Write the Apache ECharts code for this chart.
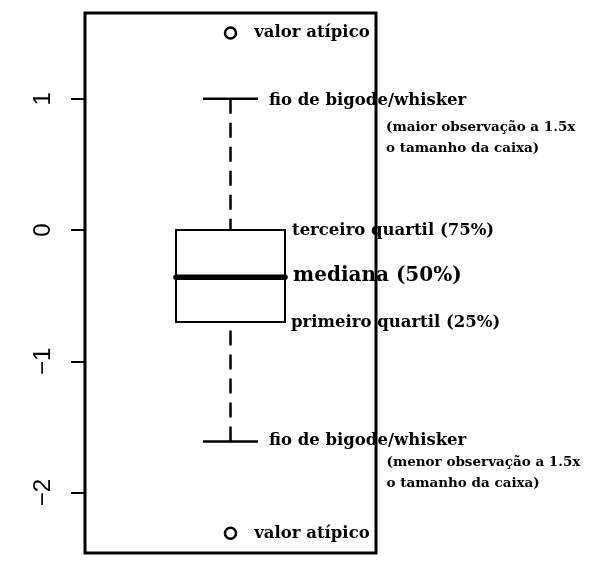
<!DOCTYPE html>
<html><head><meta charset="utf-8">
<script src="https://cdn.jsdelivr.net/npm/echarts@6/dist/echarts.min.js"></script>
<style>html,body{margin:0;padding:0;background:#fff}#c{width:600px;height:580px}</style>
</head><body><div id="c"></div>
<script>
// ---- data ----
const boxStats = [-1.61, -0.70, -0.36, 0.00, 1.00]; // lower whisker, Q1, median, Q3, upper whisker
const outliers = [1.50, -2.31];
const yTicks = [-2, -1, 0, 1];
const outlierLabel = 'valor atípico';
const whiskerLabel = 'fio de bigode/whisker';
const upperNote = ['(maior observação a 1.5x', 'o tamanho da caixa)'];
const lowerNote = ['(menor observação a 1.5x', 'o tamanho da caixa)'];
const q3Label = 'terceiro quartil (75%)';
const medianLabel = 'mediana (50%)';
const q1Label = 'primeiro quartil (25%)';

// ---- style ----
const BOX_HALF = 0.1873, CAP_HALF = 0.0945;
const SERIF = '"DejaVu Serif", serif';
const MAIN = 16.5, NOTE = 13.5, BIG = 20;
function txt(text, x, y, size) {
  return {type:'text', x:x, y:y, style:{text:text, fill:'#000', fontFamily:SERIF, fontWeight:'bold', fontSize:size, align:'left', verticalAlign:'middle'}};
}
function renderItem(params, api) {
  const x = api.value(0);
  const lo = api.value(1), q1 = api.value(2), med = api.value(3), q3 = api.value(4), hi = api.value(5);
  const Y = v => api.coord([x, v])[1];
  const X = dx => api.coord([x + dx, 0])[0];
  const cx = X(0), xl = X(-BOX_HALF), xr = X(BOX_HALF), cl = X(-CAP_HALF), cr = X(CAP_HALF);
  const yLo = Y(lo), yQ1 = Y(q1), yMed = Y(med), yQ3 = Y(q3), yHi = Y(hi);
  const dash = {stroke:'#000', lineWidth:2.5, lineDash:[15,9], fill:null};
  const solid = w => ({stroke:'#000', lineWidth:w, fill:null});
  return {type:'group', children:[
    {type:'line', shape:{x1:cx,y1:yHi,x2:cx,y2:yQ3}, style:dash},
    {type:'line', shape:{x1:cx,y1:yLo,x2:cx,y2:yQ1}, style:dash},
    {type:'line', shape:{x1:cl,y1:yHi,x2:cr,y2:yHi}, style:solid(2.5)},
    {type:'line', shape:{x1:cl,y1:yLo,x2:cr,y2:yLo}, style:solid(2.5)},
    {type:'rect', shape:{x:xl,y:yQ3,width:xr-xl,height:yQ1-yQ3}, style:{stroke:'#000', lineWidth:2, fill:'#fff'}},
    {type:'line', shape:{x1:xl,y1:yMed,x2:xr,y2:yMed}, style:{stroke:'#000', lineWidth:5.5, lineCap:'round'}},
    txt(whiskerLabel, cr + 11, yHi + 2, MAIN),
    txt(upperNote[0], cx + 155.5, yHi + 29, NOTE),
    txt(upperNote[1], cx + 155.5, yHi + 50, NOTE),
    txt(q3Label, xr + 7, yQ3 + 1, MAIN),
    txt(medianLabel, xr + 8, yMed - 1, BIG),
    txt(q1Label, xr + 6, yQ1 + 1, MAIN),
    txt(whiskerLabel, cr + 11, yLo - 1, MAIN),
    txt(lowerNote[0], cx + 156, yLo + 21, NOTE),
    txt(lowerNote[1], cx + 156, yLo + 42, NOTE)
  ]};
}

const chart = echarts.init(document.getElementById('c'), null, {renderer:'canvas'});
chart.setOption({
  animation:false,
  backgroundColor:'#fff',
  grid:{left:85, top:13, right:224, bottom:27, show:true, borderColor:'#000', borderWidth:3, backgroundColor:'transparent'},
  xAxis:{type:'value', min:0.5, max:1.5, show:false},
  yAxis:{type:'value', min:-2.46, max:1.653,
    axisLine:{show:false}, splitLine:{show:false},
    axisTick:{show:true, length:14, lineStyle:{color:'#000', width:2}, customValues:yTicks},
    axisLabel:{customValues:yTicks, rotate:90, margin:30, fontSize:24, fontFamily:'"Liberation Sans", Arial, sans-serif', color:'#000',
      formatter: v => String(v).replace('-', '\u2212')}
  },
  series:[
    {type:'custom', renderItem:renderItem, data:[[1].concat(boxStats)], z:2},
    {type:'scatter', data:outliers.map(v => [1, v]), symbol:'circle', symbolSize:11, z:3,
      itemStyle:{color:'#fff', borderColor:'#000', borderWidth:2.5, opacity:1},
      label:{show:true, position:'right', distance:17, formatter:outlierLabel, color:'#000', fontFamily:SERIF, fontWeight:'bold', fontSize:MAIN}}
  ]
});
</script></body></html>
